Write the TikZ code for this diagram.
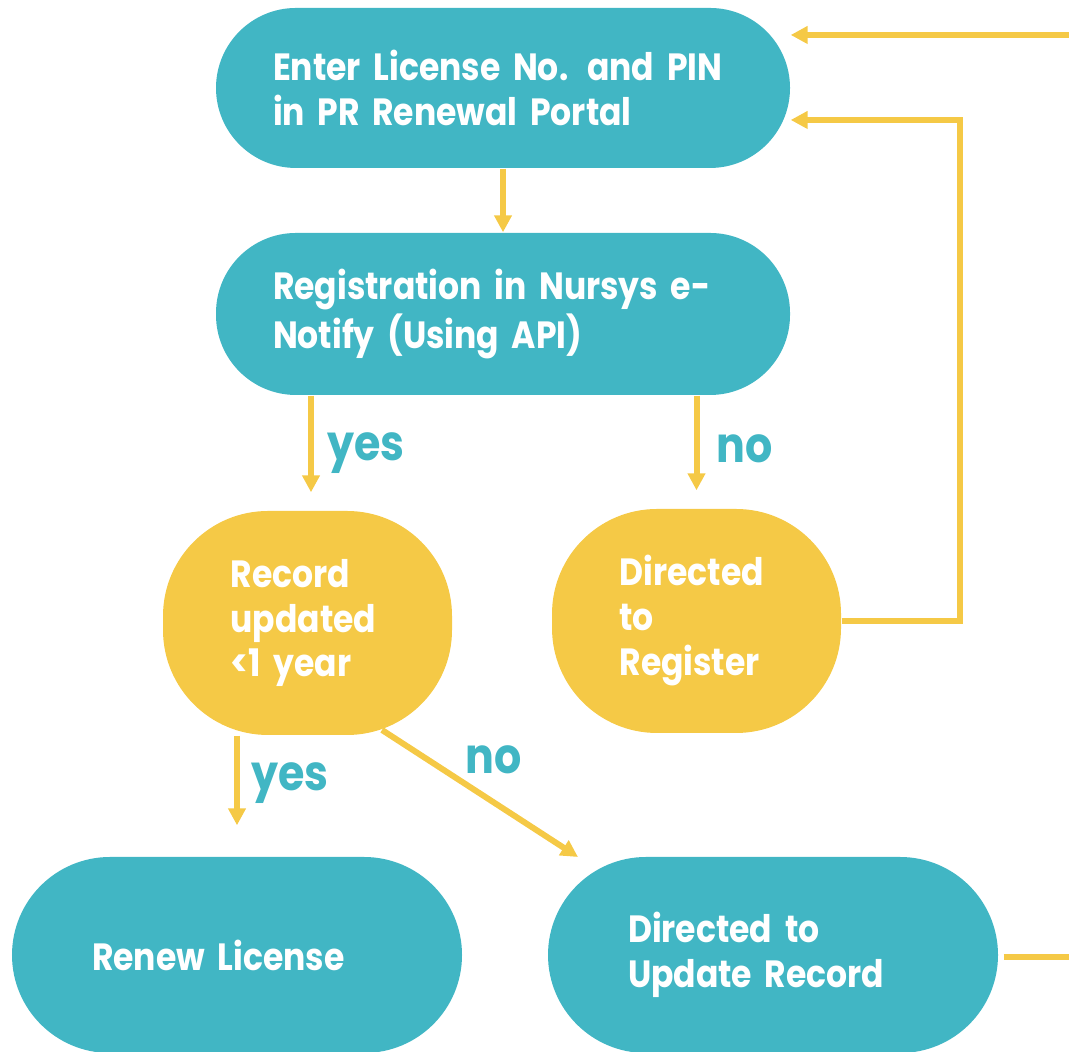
\documentclass[tikz,border=0pt]{standalone}
\usepackage{fontspec}
\setmainfont{Poppins}[FakeStretch=0.87]
\usepackage{tikz}
\usetikzlibrary{arrows.meta, positioning, calc}
\definecolor{prTeal}{HTML}{41B6C4}
\definecolor{prYellow}{HTML}{F5C946}

\tikzset{
  krok/.style={fill=prTeal, text=white, rounded corners=0.8cm, minimum width=5.74cm,
    minimum height=1.6cm, align=left, text width=4.6cm, inner sep=0pt,
    font=\bfseries\fontsize{10.8}{12.8}\selectfont},
  wynik/.style={krok, rounded corners=0.98cm, minimum width=4.5cm, minimum height=1.96cm, text width=2.9cm},
  decyzja/.style={krok, fill=prYellow, rounded corners=1.05cm, minimum width=2.89cm,
    minimum height=2.24cm, text width=1.54cm},
  strzalka/.style={draw=prYellow, line width=1.7pt, -{Triangle[length=0.17cm, width=0.17cm]}},
  linia/.style={draw=prYellow, line width=1.7pt},
  etykieta/.style={text=prTeal, font=\bfseries\fontsize{14}{16}\selectfont}
}

\begin{document}
\begin{tikzpicture}
  \useasboundingbox (0,0) rectangle (10.69,10.52);
  % kroki procesu
  \node[krok] (portal) at (5.03,9.64) {Enter License No. and PIN\\in PR Renewal Portal};
  \node[krok, minimum height=1.62cm] (nursys) at (5.03,7.38) {Registration in Nursys e-\\Notify (Using API)};
  \node[decyzja] (rekord) at (3.075,4.29) {Record\\updated\\<1 year};
  \node[decyzja] (rejestr) at (6.965,4.31) {Directed\\to\\Register};
  \node[wynik] (odnow) at (2.37,0.97) {Renew License};
  \node[wynik] (aktual) at (7.73,0.97) {Directed to\\Update Record};
  % punkty pomocnicze
  \coordinate (petla) at (9.60,9.32);
  \coordinate (powrot) at (10.69,10.17);
  \coordinate (wyjscie) at (10.69,0.95);
  \coordinate (nieA) at (3.82,3.22);
  \coordinate (nieB) at (5.78,1.95);
  % przejscia
  \draw[strzalka] (portal) -- (nursys);
  \draw[strzalka, shorten >=0.18cm] (nursys.south -| 3.11,0) -- (3.11,0 |- rekord.north);
  \draw[strzalka, shorten >=0.18cm] (nursys.south -| rejestr) -- (rejestr.north);
  \draw[strzalka, shorten >=0.31cm] (rekord.south -| odnow) -- (odnow.north);
  \draw[strzalka] (nieA) -- (nieB);
  \draw[strzalka] (rejestr.east) -| (petla) -- (portal.east |- petla);
  \draw[strzalka] (powrot) -- (portal.east |- powrot);
  \draw[linia] ([xshift=0.05cm]aktual.east |- wyjscie) -- (wyjscie);
  % etykiety tak/nie
  \node[etykieta] (tak1) at (3.66,5.99) {yes};
  \node[etykieta] (nie1) at (7.45,6.03) {no};
  \node[etykieta] (tak2) at (2.90,2.69) {yes};
  \node[etykieta] (nie2) at (4.94,2.92) {no};
\end{tikzpicture}
\end{document}
